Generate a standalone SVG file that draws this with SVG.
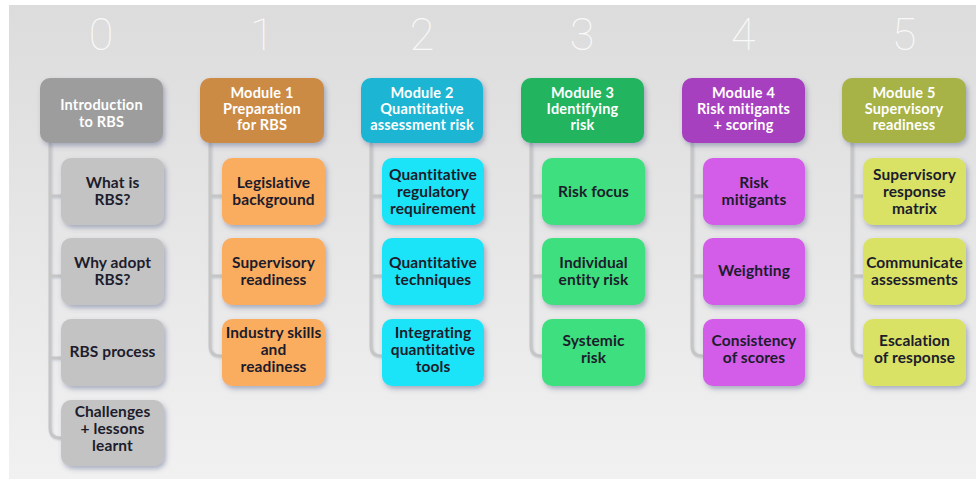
<svg xmlns="http://www.w3.org/2000/svg" width="976" height="483" viewBox="0 0 976 483">
  <defs>
    <linearGradient id="panelFill" x1="0" y1="0" x2="0" y2="1">
      <stop offset="0" stop-color="#dcdcdc"/>
      <stop offset="1" stop-color="#f1f1f1"/>
    </linearGradient>
    <filter id="boxShadow" x="-20%" y="-20%" width="150%" height="150%">
      <feDropShadow dx="2" dy="3" stdDeviation="2.4" flood-color="#56608a" flood-opacity="0.45"/>
    </filter>
    <filter id="lineShadow" x="-50%" y="-5%" width="200%" height="110%">
      <feDropShadow dx="1" dy="1" stdDeviation="0.8" flood-color="#8090a8" flood-opacity="0.35"/>
    </filter>
  </defs>
  <style>
    .num { font-family: Roboto, "Liberation Sans", sans-serif; font-weight: 100; font-size: 45px; fill: #ffffff; fill-opacity: 0.85; text-anchor: middle; }
    .head rect, .item rect { filter: url(#boxShadow); }
    .head text { font-family: Lato, "Open Sans", "Liberation Sans", sans-serif; font-weight: 700; font-size: 14.5px; letter-spacing: 0.2px; fill: #ffffff; text-anchor: middle; }
    .item text { font-family: Lato, "Open Sans", "Liberation Sans", sans-serif; font-weight: 700; font-size: 15.5px; letter-spacing: 0.1px; fill: #1c1c2c; text-anchor: middle; }
    .link { fill: none; stroke: #c6c6c6; stroke-width: 3; filter: url(#lineShadow); }
    .c0h { fill: #9d9d9d; } .c0 { fill: #c3c3c3; }
    .c1h { fill: #cc8b45; } .c1 { fill: #fbad5e; }
    .c2h { fill: #1ab5d3; } .c2 { fill: #1fe4f8; }
    .c3h { fill: #22b45e; } .c3 { fill: #3ddf7e; }
    .c4h { fill: #a73fbf; } .c4 { fill: #d35be9; }
    .c5h { fill: #a7b246; } .c5 { fill: #dae265; }
  </style>

  <!-- page and backdrop panel -->
  <rect x="0" y="0" width="976" height="483" fill="#ffffff"/>
  <rect x="9" y="5" width="967" height="474" fill="url(#panelFill)"/>

  <!-- step numbers -->
  <g id="step-numbers">
    <text class="num" x="101" y="50">0</text>
    <text class="num" x="262" y="50">1</text>
    <text class="num" x="422" y="50">2</text>
    <text class="num" x="582" y="50">3</text>
    <text class="num" x="743" y="50">4</text>
    <text class="num" x="904" y="50">5</text>
  </g>

  <!-- tree connectors: trunk from each module header, branches into each topic -->
  <g id="connectors">
    <path class="link" d="M50 143 V428 Q50 438 60 438 H61 M50 196 H61 M50 276 H61 M50 358 H61"/>
    <path class="link" d="M210 143 V346 Q210 356 220 356 H222 M210 196 H222 M210 276 H222"/>
    <path class="link" d="M371 143 V346 Q371 356 381 356 H382 M371 196 H382 M371 276 H382"/>
    <path class="link" d="M531 143 V346 Q531 356 541 356 H542 M531 196 H542 M531 276 H542"/>
    <path class="link" d="M692 143 V346 Q692 356 702 356 H703 M692 196 H703 M692 276 H703"/>
    <path class="link" d="M852 143 V346 Q852 356 862 356 H863 M852 196 H863 M852 276 H863"/>
  </g>

  <!-- column 0 -->
  <g id="intro" class="head">
    <rect class="c0h" x="40" y="78" width="123" height="65" rx="10"/>
    <text x="101.5" y="110">Introduction</text>
    <text x="101.5" y="126.5">to RBS</text>
  </g>
  <g id="what-is-rbs" class="item">
    <rect class="c0" x="61" y="158" width="103" height="67" rx="10"/>
    <text x="112.5" y="188">What is</text>
    <text x="112.5" y="205.3">RBS?</text>
  </g>
  <g id="why-adopt-rbs" class="item">
    <rect class="c0" x="61" y="238" width="103" height="67" rx="10"/>
    <text x="112.5" y="268">Why adopt</text>
    <text x="112.5" y="285.3">RBS?</text>
  </g>
  <g id="rbs-process" class="item">
    <rect class="c0" x="61" y="319" width="103" height="67" rx="10"/>
    <text x="112.5" y="357">RBS process</text>
  </g>
  <g id="challenges" class="item">
    <rect class="c0" x="61" y="400" width="103" height="66" rx="10"/>
    <text x="112.5" y="416.5">Challenges</text>
    <text x="112.5" y="433.8">+ lessons</text>
    <text x="112.5" y="451.1">learnt</text>
  </g>

  <!-- column 1 -->
  <g id="module1" class="head">
    <rect class="c1h" x="200" y="78" width="124" height="65" rx="10"/>
    <text x="262" y="97.5">Module 1</text>
    <text x="262" y="113.8">Preparation</text>
    <text x="262" y="130.1">for RBS</text>
  </g>
  <g id="legislative-background" class="item">
    <rect class="c1" x="222" y="158" width="103" height="67" rx="10"/>
    <text x="273.5" y="188">Legislative</text>
    <text x="273.5" y="205.3">background</text>
  </g>
  <g id="supervisory-readiness-1" class="item">
    <rect class="c1" x="222" y="238" width="103" height="67" rx="10"/>
    <text x="273.5" y="268">Supervisory</text>
    <text x="273.5" y="285.3">readiness</text>
  </g>
  <g id="industry-skills" class="item">
    <rect class="c1" x="222" y="319" width="103" height="67" rx="10"/>
    <text x="273.5" y="337.5">Industry skills</text>
    <text x="273.5" y="354.8">and</text>
    <text x="273.5" y="372.1">readiness</text>
  </g>

  <!-- column 2 -->
  <g id="module2" class="head">
    <rect class="c2h" x="361" y="78" width="122" height="65" rx="10"/>
    <text x="422" y="97.5">Module 2</text>
    <text x="422" y="113.8">Quantitative</text>
    <text x="422" y="130.1">assessment risk</text>
  </g>
  <g id="quantitative-requirement" class="item">
    <rect class="c2" x="382" y="158" width="102" height="67" rx="10"/>
    <text x="433" y="179.5">Quantitative</text>
    <text x="433" y="196.8">regulatory</text>
    <text x="433" y="214.1">requirement</text>
  </g>
  <g id="quantitative-techniques" class="item">
    <rect class="c2" x="382" y="238" width="102" height="67" rx="10"/>
    <text x="433" y="268">Quantitative</text>
    <text x="433" y="285.3">techniques</text>
  </g>
  <g id="integrating-tools" class="item">
    <rect class="c2" x="382" y="319" width="102" height="67" rx="10"/>
    <text x="433" y="337.5">Integrating</text>
    <text x="433" y="354.8">quantitative</text>
    <text x="433" y="372.1">tools</text>
  </g>

  <!-- column 3 -->
  <g id="module3" class="head">
    <rect class="c3h" x="521" y="78" width="123" height="65" rx="10"/>
    <text x="582.5" y="97.5">Module 3</text>
    <text x="582.5" y="113.8">Identifying</text>
    <text x="582.5" y="130.1">risk</text>
  </g>
  <g id="risk-focus" class="item">
    <rect class="c3" x="542" y="158" width="103" height="67" rx="10"/>
    <text x="593.5" y="197">Risk focus</text>
  </g>
  <g id="individual-entity-risk" class="item">
    <rect class="c3" x="542" y="238" width="103" height="67" rx="10"/>
    <text x="593.5" y="268">Individual</text>
    <text x="593.5" y="285.3">entity risk</text>
  </g>
  <g id="systemic-risk" class="item">
    <rect class="c3" x="542" y="319" width="103" height="67" rx="10"/>
    <text x="593.5" y="346">Systemic</text>
    <text x="593.5" y="363.3">risk</text>
  </g>

  <!-- column 4 -->
  <g id="module4" class="head">
    <rect class="c4h" x="682" y="78" width="123" height="65" rx="10"/>
    <text x="743.5" y="97.5">Module 4</text>
    <text x="743.5" y="113.8">Risk mitigants</text>
    <text x="743.5" y="130.1">+ scoring</text>
  </g>
  <g id="risk-mitigants" class="item">
    <rect class="c4" x="703" y="158" width="102" height="67" rx="10"/>
    <text x="754" y="188">Risk</text>
    <text x="754" y="205.3">mitigants</text>
  </g>
  <g id="weighting" class="item">
    <rect class="c4" x="703" y="238" width="102" height="67" rx="10"/>
    <text x="754" y="276">Weighting</text>
  </g>
  <g id="consistency-of-scores" class="item">
    <rect class="c4" x="703" y="319" width="102" height="67" rx="10"/>
    <text x="754" y="346">Consistency</text>
    <text x="754" y="363.3">of scores</text>
  </g>

  <!-- column 5 -->
  <g id="module5" class="head">
    <rect class="c5h" x="842" y="78" width="124" height="65" rx="10"/>
    <text x="904" y="97.5">Module 5</text>
    <text x="904" y="113.8">Supervisory</text>
    <text x="904" y="130.1">readiness</text>
  </g>
  <g id="response-matrix" class="item">
    <rect class="c5" x="863" y="158" width="103" height="67" rx="10"/>
    <text x="914.5" y="179.5">Supervisory</text>
    <text x="914.5" y="196.8">response</text>
    <text x="914.5" y="214.1">matrix</text>
  </g>
  <g id="communicate-assessments" class="item">
    <rect class="c5" x="863" y="238" width="103" height="67" rx="10"/>
    <text x="914.5" y="268">Communicate</text>
    <text x="914.5" y="285.3">assessments</text>
  </g>
  <g id="escalation-of-response" class="item">
    <rect class="c5" x="863" y="319" width="103" height="67" rx="10"/>
    <text x="914.5" y="346">Escalation</text>
    <text x="914.5" y="363.3">of response</text>
  </g>
</svg>
